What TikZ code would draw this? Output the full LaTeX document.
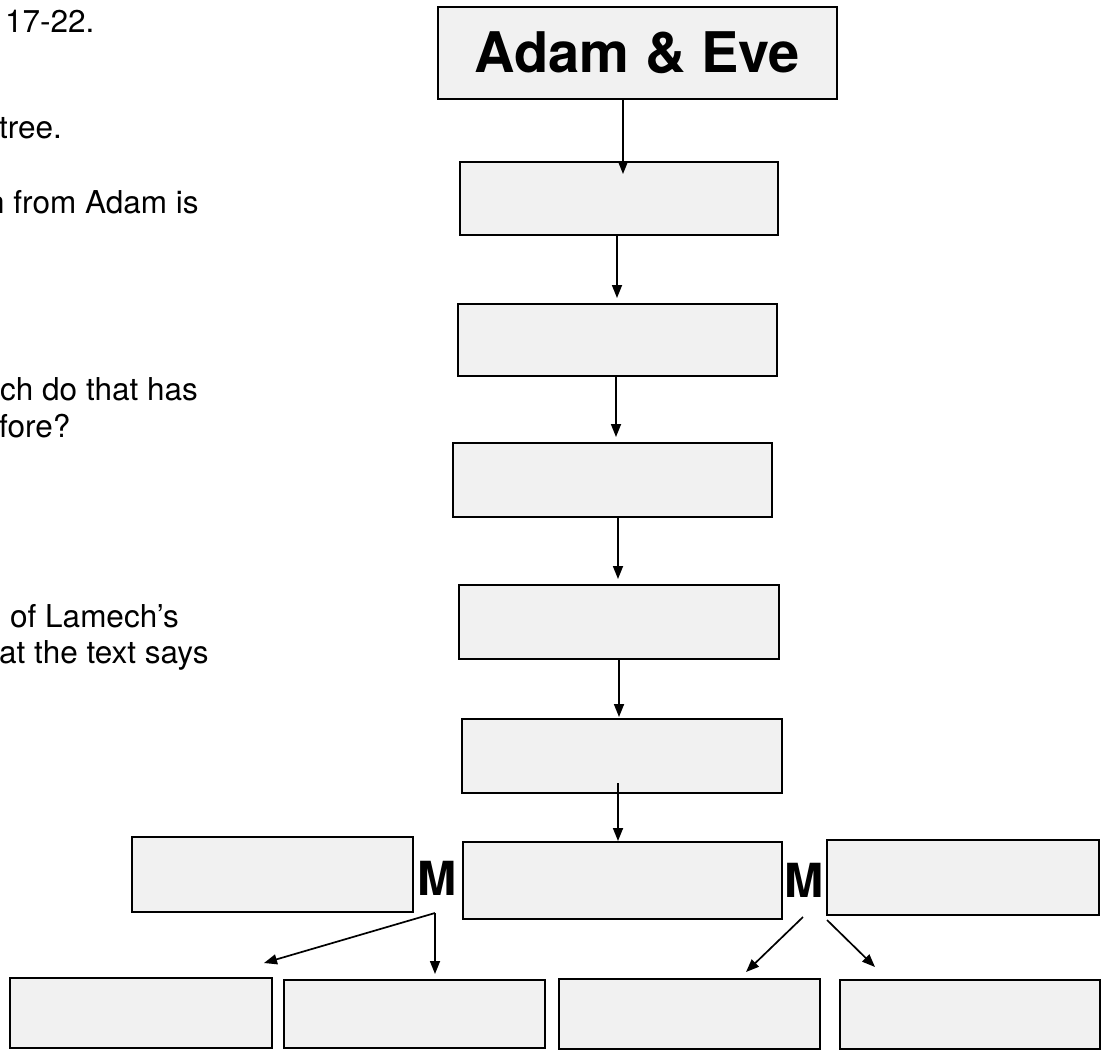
\documentclass[tikz,border=0pt]{standalone}
\usepackage{fontspec}
\setmainfont{TeX Gyre Heros}
\usetikzlibrary{arrows.meta}
\definecolor{boxfill}{gray}{0.945}
\begin{document}
\begin{tikzpicture}[x=1pt,y=-1pt,
  panel/.style={draw, line width=2pt, fill=boxfill, inner sep=0pt},
  arr/.style={-{Triangle[length=13pt,width=10pt]}, line width=1.7pt},
  body/.style={anchor=base west, inner sep=0pt, font=\fontsize{31.5}{34}\selectfont},
  marriage/.style={anchor=base, inner sep=0pt, font=\fontsize{47}{48}\selectfont\bfseries}]
\useasboundingbox (0,0) rectangle (1102,1050);

% question text along the left edge
\node[body] (t1) at (5,32) {17-22.};
\node[body] (t2) at (-1,138) {tree.};
\node[body] (t3) at (-13,213) {n from Adam is};
\node[body] (t4) at (0,400) {ch do that has};
\node[body] (t5) at (-1,437) {fore?};
\node[body] (t6) at (10,627) {of Lamech’s};
\node[body] (t7) at (-1,663) {at the text says};

% family line
\node[panel, minimum width=399pt, minimum height=92pt,
      font=\fontsize{56}{60}\selectfont\bfseries] (ae) at (637.5,53) {Adam \& Eve};
\node[panel, minimum width=318pt, minimum height=73pt] (b2) at (619,198.5) {};
\node[panel, minimum width=319pt, minimum height=72pt] (b3) at (617.5,340) {};
\node[panel, minimum width=319pt, minimum height=74pt] (b4) at (612.5,480) {};
\node[panel, minimum width=320pt, minimum height=74pt] (b5) at (619,622) {};
\node[panel, minimum width=320pt, minimum height=74pt] (b6) at (622,756) {};
\node[panel, minimum width=319pt, minimum height=77pt] (b7) at (622.5,880.5) {};

% wives
\node[panel, minimum width=281pt, minimum height=75pt] (wl) at (272.5,874.5) {};
\node[panel, minimum width=272pt, minimum height=75pt] (wr) at (963,877.5) {};
\node[marriage] (ml) at (437,895) {M};
\node[marriage] (mr) at (804,897) {M};

% children
\node[panel, minimum width=262pt, minimum height=70pt] (c1) at (141,1013) {};
\node[panel, minimum width=261pt, minimum height=68pt] (c2) at (414.5,1014) {};
\node[panel, minimum width=261pt, minimum height=70pt] (c3) at (689.5,1014) {};
\node[panel, minimum width=260pt, minimum height=69pt] (c4) at (970,1014.5) {};

% descent arrows
\draw[arr, shorten >=-13pt] ([xshift=-14.5pt]ae.south) -- ([xshift=4pt]b2.north);
\draw[arr, shorten >=5pt] ([xshift=-2pt]b2.south) -- ([xshift=-0.5pt]b3.north);
\draw[arr, shorten >=5pt] ([xshift=-1.5pt]b3.south) -- ([xshift=3.5pt]b4.north);
\draw[arr, shorten >=5pt] ([xshift=5.5pt]b4.south) -- ([xshift=-1pt]b5.north);
\draw[arr, shorten >=1pt] ([xshift=0pt]b5.south) -- ([xshift=-3pt]b6.north);
\draw[arr] ([xshift=-4pt,yshift=11pt]b6.south) -- ([xshift=-4.5pt]b7.north);

% arrows from the marriages to the children
\coordinate (mlfoot) at (435,913);
\coordinate (mrfootl) at (803,917);
\coordinate (mrfootr) at (827,920);
\coordinate (c1tip) at ([xshift=-9pt,yshift=14pt]c1.north east);
\coordinate (c2tip) at ([xshift=20.5pt,yshift=5pt]c2.north);
\coordinate (c3tip) at ([xshift=56.5pt,yshift=6pt]c3.north);
\coordinate (c4tip) at ([xshift=-95pt,yshift=12pt]c4.north);
\draw[arr] (mlfoot) -- (c1tip);
\draw[arr] (mlfoot) -- (c2tip);
\draw[arr] (mrfootl) -- (c3tip);
\draw[arr] (mrfootr) -- (c4tip);
\end{tikzpicture}
\end{document}
